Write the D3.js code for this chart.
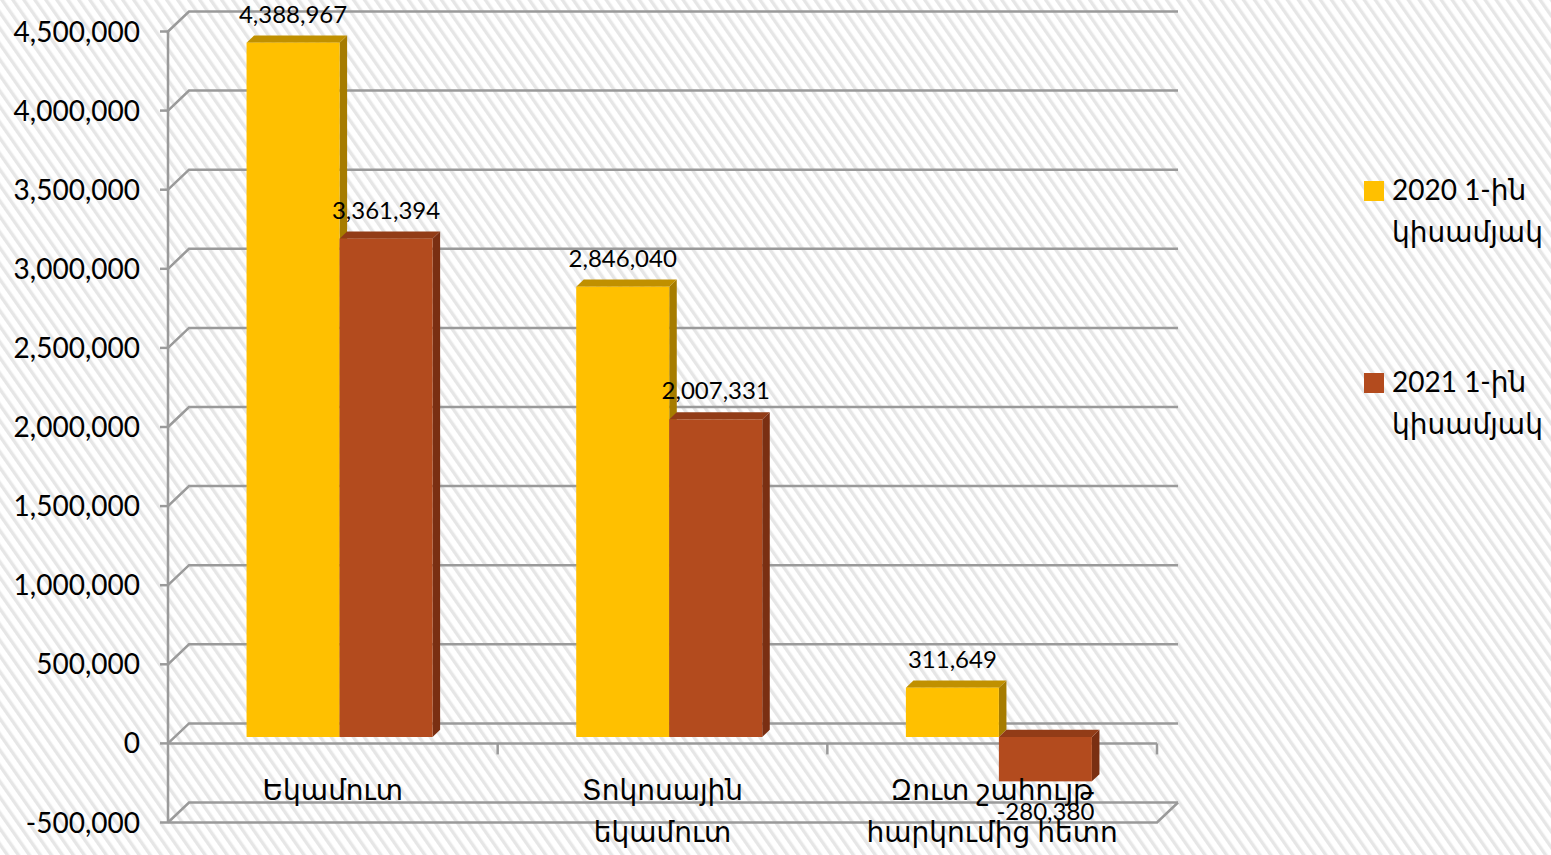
<!DOCTYPE html>
<html>
<head>
<meta charset="utf-8">
<script src="https://cdn.jsdelivr.net/npm/d3@7"></script>
<style>
  html, body { margin: 0; padding: 0; background: #ffffff; }
  svg { display: block; }
  text { font-family: Lato, "DejaVu Sans", sans-serif; fill: #000; }
</style>
</head>
<body>
<svg id="chart" width="1551" height="855"></svg>
<script>
// ---- data ----
const categories = [["Եկամուտ"], ["Տոկոսային", "եկամուտ"], ["Զուտ շահույթ", "հարկումից հետո"]];
const seriesNames = [["2020 1-ին", "կիսամյակ"], ["2021 1-ին", "կիսամյակ"]];
const values2020 = [4388967, 2846040, 311649];
const values2021 = [3150000, 2007331, -280380];
const labels2020 = ["4,388,967", "2,846,040", "311,649"];
const labels2021 = ["3,361,394", "2,007,331", "-280,380"];
const tickValues = [-500000, 0, 500000, 1000000, 1500000, 2000000, 2500000, 3000000, 3500000, 4000000, 4500000];

// ---- styles ----
const colors = [
  { front: "#FFC000", top: "#C09000", side: "#A67C00" },
  { front: "#B34B1E", top: "#923C17", side: "#7A2F12" }
];
const gridColor = "#9a9a9a";

const svg = d3.select("#chart");
const W = 1551, H = 855;

// background stripes
const defs = svg.append("defs");
const pat = defs.append("pattern")
  .attr("id", "stripes").attr("patternUnits", "userSpaceOnUse")
  .attr("width", 9).attr("height", 9)
  .attr("patternTransform", "rotate(-35)");
pat.append("rect").attr("width", 9).attr("height", 9).attr("fill", "#ffffff");
pat.append("rect").attr("x", 0).attr("width", 3.4).attr("height", 9).attr("fill", "#e6e6e6");
svg.append("rect").attr("width", W).attr("height", H).attr("fill", "url(#stripes)");

// scales
const xLeft = 168, xRight = 1157;
const depthX = 21, depthY = -20;
const y = d3.scaleLinear().domain([-500000, 4500000]).range([822.5, 31.5]);
const x0 = d3.scaleBand().domain(d3.range(categories.length)).range([xLeft, xRight]).padding(0);
const barW = 93;
const x1 = d3.scaleBand().domain([0, 1]).range([-barW, barW]).padding(0);
const tFront = 0.32, tBack = 0.68;

const g = svg.append("g");

// back wall gridlines with diagonals
tickValues.forEach(v => {
  const yf = y(v);
  g.append("path")
    .attr("d", `M${xLeft},${yf} L${xLeft + depthX},${yf + depthY} L${xRight + depthX},${yf + depthY}`)
    .attr("fill", "none").attr("stroke", gridColor).attr("stroke-width", 2.5);
});

// floor front edge and right diagonal
g.append("path")
  .attr("d", `M${xLeft},${y(-500000)} L${xRight},${y(-500000)} L${xRight + depthX},${y(-500000) + depthY}`)
  .attr("fill", "none").attr("stroke", gridColor).attr("stroke-width", 2.5);

// left axis
g.append("line").attr("x1", xLeft).attr("x2", xLeft).attr("y1", y(4500000)).attr("y2", y(-500000))
  .attr("stroke", gridColor).attr("stroke-width", 2.5);
tickValues.forEach(v => {
  g.append("line").attr("x1", xLeft - 8).attr("x2", xLeft).attr("y1", y(v)).attr("y2", y(v))
    .attr("stroke", gridColor).attr("stroke-width", 2.5);
});
// category axis at zero
g.append("line").attr("x1", xLeft).attr("x2", xRight).attr("y1", y(0)).attr("y2", y(0))
  .attr("stroke", gridColor).attr("stroke-width", 2.5);
x0.domain().forEach(i => {
  const xx = x0(i) + x0.bandwidth();
  g.append("line").attr("x1", xx).attr("x2", xx).attr("y1", y(0)).attr("y2", y(0) + 11)
    .attr("stroke", gridColor).attr("stroke-width", 2.5);
});

// tick labels
const locale = d3.formatLocale({ decimal: ".", thousands: ",", grouping: [3], currency: ["$", ""], minus: "-" });
const fmt = locale.format(",");
tickValues.forEach(v => {
  g.append("text").attr("x", 140).attr("y", y(v) + 10)
    .attr("text-anchor", "end").attr("font-size", 28).text(fmt(v));
});

// bars
const series = [values2020, values2021];
const seriesLabels = [labels2020, labels2021];
const barsG = svg.append("g");
categories.forEach((c, ci) => {
  series.forEach((vals, si) => {
    const v = vals[ci];
    const col = colors[si];
    const cx = x0(ci) + x0.bandwidth() / 2;
    const fx0 = cx + x1(si) + depthX * tFront;
    const fx1 = fx0 + x1.bandwidth();
    const dyF = depthY * tFront;
    const yTop = Math.min(y(v), y(0)) + dyF;
    const yBot = Math.max(y(v), y(0)) + dyF;
    const ox = depthX * (tBack - tFront), oy = depthY * (tBack - tFront);
    const bg = barsG.append("g");
    bg.append("path").attr("d", `M${fx1},${yTop} L${fx1 + ox},${yTop + oy} L${fx1 + ox},${yBot + oy} L${fx1},${yBot} Z`)
      .attr("fill", col.side);
    bg.append("path").attr("d", `M${fx0},${yTop} L${fx0 + ox},${yTop + oy} L${fx1 + ox},${yTop + oy} L${fx1},${yTop} Z`)
      .attr("fill", col.top);
    bg.append("rect").attr("x", fx0).attr("y", yTop).attr("width", fx1 - fx0).attr("height", yBot - yTop)
      .attr("fill", col.front);
  });
});

// data labels
categories.forEach((c, ci) => {
  series.forEach((vals, si) => {
    const v = vals[ci];
    const cx = x0(ci) + x0.bandwidth() / 2;
    const fx0 = cx + x1(si) + depthX * tFront;
    const mid = fx0 + x1.bandwidth() / 2;
    const dyF = depthY * tFront;
    const ly = v >= 0 ? y(v) + dyF - 20 : y(v) + dyF + 39;
    svg.append("text").attr("x", mid).attr("y", ly).attr("text-anchor", "middle")
      .attr("font-size", 24).text(seriesLabels[si][ci]);
  });
});

// category labels
categories.forEach((lines, ci) => {
  const cx = x0(ci) + x0.bandwidth() / 2;
  const t = svg.append("text").attr("text-anchor", "middle").attr("font-size", 28);
  lines.forEach((ln, li) => {
    t.append("tspan").attr("x", cx).attr("y", 800 + li * 42).text(ln);
  });
});

// legend
const legendY = [200, 392];
seriesNames.forEach((lines, si) => {
  svg.append("rect").attr("x", 1364).attr("y", legendY[si] - 19).attr("width", 20).attr("height", 20)
    .attr("fill", colors[si].front);
  const t = svg.append("text").attr("font-size", 28);
  lines.forEach((ln, li) => {
    t.append("tspan").attr("x", 1392).attr("y", legendY[si] + li * 42).text(ln);
  });
});
</script>
</body>
</html>
